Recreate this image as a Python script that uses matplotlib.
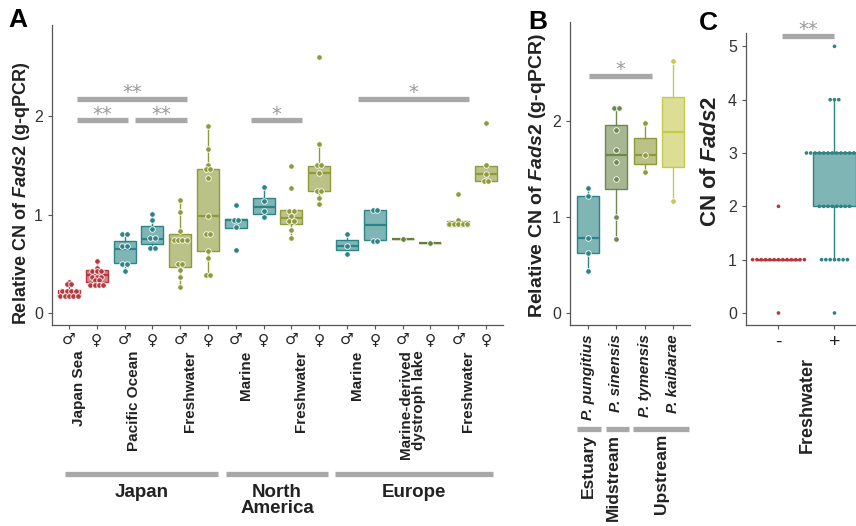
import matplotlib
matplotlib.use("Agg")
import matplotlib.pyplot as plt
from matplotlib.lines import Line2D
import numpy as np

plt.rcParams["font.family"] = ["Liberation Sans", "DejaVu Sans"]
plt.rcParams["mathtext.fontset"] = "custom"
plt.rcParams["mathtext.it"] = "Liberation Sans:italic:bold"
plt.rcParams["mathtext.rm"] = "Liberation Sans:bold"

W, H = 856, 526

# ---------------- data: panel A ----------------
sexes_a = ["♂", "♀"] * 8
habitats_a = ["Japan Sea", "Pacific Ocean", "Freshwater", "Marine", "Freshwater",
              "Marine", "Marine-derived\ndystroph lake", "Freshwater"]
regions_a = ["Japan", "North\nAmerica", "Europe"]
points_a = [
    [0.31, 0.29, 0.29, 0.22, 0.22, 0.22, 0.22, 0.17, 0.17, 0.17, 0.17, 0.17],
    [0.53, 0.46, 0.42, 0.42, 0.42, 0.36, 0.36, 0.36, 0.33, 0.33, 0.28, 0.28, 0.28, 0.28],
    [0.80, 0.80, 0.68, 0.68, 0.50, 0.50, 0.42],
    [1.01, 0.94, 0.85, 0.76, 0.76, 0.66, 0.66],
    [1.15, 1.03, 0.83, 0.74, 0.74, 0.74, 0.74, 0.50, 0.50, 0.43, 0.36, 0.26],
    [1.90, 1.67, 1.50, 1.46, 1.46, 1.37, 0.99, 0.80, 0.80, 0.63, 0.56, 0.38, 0.38],
    [1.10, 0.94, 0.94, 0.87, 0.64],
    [1.28, 1.14, 1.04, 0.97],
    [1.49, 1.27, 1.04, 1.04, 0.98, 0.93, 0.93, 0.84, 0.76],
    [2.60, 1.715, 1.50, 1.50, 1.42, 1.24, 1.24, 1.17, 1.105],
    [0.80, 0.68, 0.60],
    [1.05, 1.05, 0.73, 0.73],
    [0.75],
    [0.715],
    [1.21, 0.94, 0.90, 0.90, 0.90, 0.90, 0.90],
    [1.93, 1.50, 1.41, 1.34, 1.34],
]
q1_a = [0.175, 0.31, 0.51, 0.695, 0.47, 0.63, 0.865, 1.01, 0.90, 1.237, 0.64, 0.74, 0.75, 0.715, 0.88, 1.34]
med_a = [0.20, 0.38, 0.65, 0.755, 0.74, 0.99, 0.94, 1.08, 0.96, 1.42, 0.68, 0.89, 0.75, 0.715, 0.915, 1.41]
q3_a = [0.235, 0.44, 0.73, 0.885, 0.80, 1.46, 0.95, 1.17, 1.044, 1.495, 0.74, 1.05, 0.75, 0.715, 0.935, 1.495]
wlo_a = [0.165, 0.28, 0.42, 0.66, 0.26, 0.38, 0.865, 0.97, 0.76, 1.105, 0.60, 0.74, 0.75, 0.715, 0.88, 1.34]
whi_a = [0.31, 0.53, 0.80, 1.01, 1.15, 1.90, 0.95, 1.28, 1.044, 1.715, 0.80, 1.05, 0.75, 0.715, 0.935, 1.495]
groups_a = ["red", "red", "teal", "teal", "olive", "olive", "teal", "teal",
            "olive", "olive", "teal", "teal", "dgreen", "dgreen", "olive", "olive"]

# ---------------- data: panel B ----------------
species_b = ["P. pungitius", "P. sinensis", "P. tymensis", "P. kaibarae"]
reaches_b = ["Estuary", "Midstream", "Upstream"]
points_b = [
    [1.30, 1.22, 0.78, 0.62, 0.44],
    [2.13, 2.13, 1.90, 1.70, 1.57, 1.39, 1.00, 0.765],
    [1.98, 1.645, 1.464],
    [2.62, 1.165],
]
q1_b = [0.62, 1.29, 1.555, 1.52]
med_b = [0.78, 1.64, 1.645, 1.88]
q3_b = [1.22, 1.955, 1.816, 2.25]
wlo_b = [0.44, 0.765, 1.464, 1.165]
whi_b = [1.30, 2.13, 1.98, 2.62]
groups_b = ["teal", "sgreen", "olive", "yellow"]

# ---------------- data: panel C ----------------
fw_c = ["-", "+"]
cn_values_c = [0, 1, 2, 3, 4, 5]
counts_minus_c = [1, 13, 1, 0, 0, 0]
counts_plus_c = [1, 7, 8, 14, 3, 1]
stats_c = [dict(q1=1, med=1, q3=1, whislo=1, whishi=1),
           dict(q1=2, med=3, q3=3, whislo=1, whishi=4)]
groups_c = ["red", "teal"]

colors = {"red": "#b8363c", "teal": "#2c8486", "olive": "#8f9a38",
          "dgreen": "#657f3c", "sgreen": "#6c884b", "yellow": "#c6c94e"}
grey = "#a8a8a8"
spine_c = "#555555"


def px_fig(x, y):
    return x / W, 1 - y / H


def swarm_x(vals, center, step):
    vals = np.asarray(vals, dtype=float)
    xs = np.empty(len(vals))
    for v in np.unique(vals):
        idx = np.where(vals == v)[0]
        n = len(idx)
        xs[idx] = center + (np.arange(n) - (n - 1) / 2) * step
    return xs


def style_ax(ax):
    for s in ["top", "right"]:
        ax.spines[s].set_visible(False)
    for s in ["left", "bottom"]:
        ax.spines[s].set_color(spine_c)
        ax.spines[s].set_linewidth(0.9)
    ax.tick_params(length=3, width=0.8, color=spine_c, labelcolor="#333333")


def draw_boxes(ax, q1, med, q3, wlo, whi, groups, width):
    stats = [dict(q1=a, med=b, q3=c, whislo=d, whishi=e, fliers=[])
             for a, b, c, d, e in zip(q1, med, q3, wlo, whi)]
    bp = ax.bxp(stats, positions=range(len(stats)), widths=width, patch_artist=True,
                showfliers=False, showcaps=False, manage_ticks=False)
    for i, g in enumerate(groups):
        col = colors[g]
        bp["boxes"][i].set(facecolor=matplotlib.colors.to_rgba(col, 0.6), edgecolor=col, linewidth=1.0)
        bp["medians"][i].set(color=col, linewidth=1.6)
        bp["whiskers"][2 * i].set(color=col, linewidth=1.0)
        bp["whiskers"][2 * i + 1].set(color=col, linewidth=1.0)


def sig_bar(ax, x0, x1, y, txt):
    ax.plot([x0, x1], [y, y], color=grey, lw=3.8, solid_capstyle="butt", clip_on=False, zorder=5)
    ax.annotate(txt, xy=((x0 + x1) / 2, y), xytext=(0, 0.5), textcoords="offset points",
                ha="center", va="baseline", color="#9a9a9a", fontsize=14,
                family="DejaVu Sans", annotation_clip=False)


fig = plt.figure(figsize=(W / 100, H / 100), dpi=100)

# ================= panel A =================
axA = fig.add_axes([52 / W, 201 / H, 451 / W, 300 / H])
style_ax(axA)
draw_boxes(axA, q1_a, med_a, q3_a, wlo_a, whi_a, groups_a, 0.79)
for i, (vals, g) in enumerate(zip(points_a, groups_a)):
    axA.scatter(swarm_x(vals, i, 0.16), vals, s=16, color=colors[g], edgecolor="white",
                linewidth=0.6, zorder=4)
axA.set_xlim(-0.61, 15.61)
axA.set_ylim(-0.125, 2.93)
axA.set_yticks([0, 1, 2])
axA.set_yticklabels(["0", "1", "2"], fontsize=11.5)
axA.set_xticks(range(16))
axA.set_xticklabels(sexes_a, fontsize=11, color="#222222", family="DejaVu Sans")
axA.tick_params(axis="x", pad=2)
for k, name in enumerate(habitats_a):
    axA.text(2 * k + 0.5 - 0.15, -0.085, name, transform=axA.get_xaxis_transform(),
             rotation=90, ha="center", va="top", multialignment="right",
             fontsize=11, fontweight="bold", color="#222222", linespacing=0.9)

sig_bar(axA, 0.29, 4.24, 2.18, "**")
sig_bar(axA, 0.29, 2.12, 1.96, "**")
sig_bar(axA, 2.37, 4.24, 1.96, "**")
sig_bar(axA, 6.55, 8.38, 1.96, "*")
sig_bar(axA, 10.4, 14.39, 2.18, "*")

region_span = [(65, 218), (226, 328), (335, 493)]
for (x0, x1), name in zip(region_span, regions_a):
    fig.add_artist(Line2D([x0 / W, x1 / W], [1 - 474 / H] * 2, color=grey, lw=3.8,
                          solid_capstyle="butt"))
    for j, line in enumerate(name.split("\n")):
        fig.text(*px_fig((x0 + x1) / 2, 497 + 16 * j), line, ha="center", va="baseline",
                 fontsize=13.5, fontweight="bold", color="#222222")

fig.text(*px_fig(22, 193), r"Relative CN of $\mathit{Fads2}$ (g-qPCR)", rotation=90,
         ha="center", va="center", fontsize=13, fontweight="bold", color="#222222")
fig.text(*px_fig(18, 20), "A", ha="center", va="center", fontsize=19, fontweight="bold")

# ================= panel B =================
axB = fig.add_axes([570 / W, 201 / H, 120 / W, 303 / H])
style_ax(axB)
draw_boxes(axB, q1_b, med_b, q3_b, wlo_b, whi_b, groups_b, 0.78)
for i, (vals, g) in enumerate(zip(points_b, groups_b)):
    axB.scatter(swarm_x(vals, i, 0.16), vals, s=16, color=colors[g], edgecolor="white",
                linewidth=0.6, zorder=4)
axB.set_xlim(-0.64, 3.6)
axB.set_ylim(-0.128, 3.03)
axB.set_yticks([0, 1, 2])
axB.set_yticklabels(["0", "1", "2"], fontsize=11.5)
axB.set_xticks(range(4))
axB.set_xticklabels(species_b, rotation=90, fontsize=11, fontstyle="italic",
                    fontweight="bold", color="#222222")
sig_bar(axB, 0.04, 2.26, 2.47, "*")

reach_span = [(577, 601), (606, 629), (633, 689)]
reach_x = [588, 613, 662]
for (x0, x1), xc, name in zip(reach_span, reach_x, reaches_b):
    fig.add_artist(Line2D([x0 / W, x1 / W], [1 - 429 / H] * 2, color=grey, lw=3.8,
                          solid_capstyle="butt"))
    fig.text(*px_fig(xc, 434), name, rotation=90, ha="center", va="top",
             fontsize=12.5, fontweight="bold", color="#222222")

fig.text(*px_fig(538, 176), r"Relative CN of $\mathit{Fads2}$ (g-qPCR)", rotation=90,
         ha="center", va="center", fontsize=14, fontweight="bold", color="#222222")
fig.text(*px_fig(538, 22), "B", ha="center", va="center", fontsize=19, fontweight="bold")

# ================= panel C =================
axC = fig.add_axes([746 / W, 201 / H, 112 / W, 292 / H])
style_ax(axC)
bpC = axC.bxp([dict(s, fliers=[]) for s in stats_c], positions=[0, 1], widths=0.77,
              patch_artist=True, showfliers=False, showcaps=False, manage_ticks=False)
for i, g in enumerate(groups_c):
    col = colors[g]
    bpC["boxes"][i].set(facecolor=matplotlib.colors.to_rgba(col, 0.6), edgecolor=col, linewidth=1.0)
    bpC["medians"][i].set(color=col, linewidth=1.4)
    bpC["whiskers"][2 * i].set(color=col, linewidth=1.0)
    bpC["whiskers"][2 * i + 1].set(color=col, linewidth=1.0)
for i, (counts, g) in enumerate(zip([counts_minus_c, counts_plus_c], groups_c)):
    vals = np.repeat(cn_values_c, counts)
    axC.scatter(swarm_x(vals, i, 0.077), vals, s=7, color=colors[g], edgecolor="none",
                zorder=4, clip_on=False)
axC.set_xlim(-0.58, 1.42)
axC.set_ylim(-0.225, 5.25)
axC.set_yticks(range(6))
axC.set_yticklabels([str(v) for v in range(6)], fontsize=11.5)
axC.set_xticks([0, 1])
axC.set_xticklabels(fw_c, fontsize=14, color="#222222")
sig_bar(axC, 0.07, 1.0, 5.20, "**")

fig.text(*px_fig(807, 357), "Freshwater", rotation=90, ha="center", va="top",
         fontsize=13, fontweight="bold", color="#222222")
fig.text(*px_fig(710, 162), r"CN of $\mathit{Fads2}$", rotation=90, ha="center",
         va="center", fontsize=16, fontweight="bold", color="#222222")
fig.text(*px_fig(708, 23), "C", ha="center", va="center", fontsize=19, fontweight="bold")

fig.savefig("out.png", dpi=100)
